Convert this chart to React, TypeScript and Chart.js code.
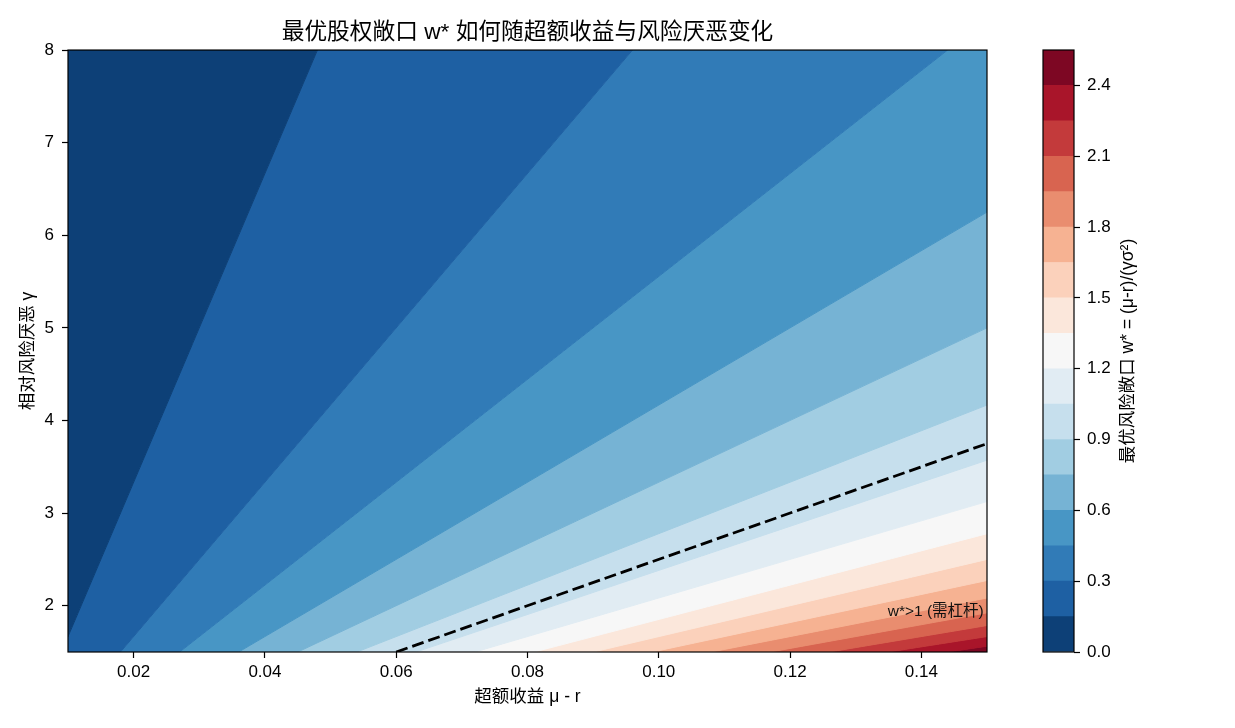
import React, { useEffect, useRef } from "react";
import { Chart, registerables } from "chart.js";

Chart.register(...registerables);

// ---------------- data ----------------
const TITLE = "最优股权敞口 w* 如何随超额收益与风险厌恶变化";
const X_LABEL = "超额收益 μ - r";
const Y_LABEL = "相对风险厌恶 γ";
const CB_LABEL = "最优风险敞口 w* = (μ-r)/(γσ²)";
const ANNOT_TEXT = "w*>1 (需杠杆)";

const sigma = 0.2; // volatility σ
const excessReturnRange = [0.01, 0.15]; // μ - r
const gammaRange = [1.5, 8]; // γ
const contourLevels = [
  0, 0.15, 0.3, 0.45, 0.6, 0.75, 0.9, 1.05, 1.2, 1.35, 1.5, 1.65, 1.8, 1.95, 2.1, 2.25, 2.4, 2.55,
];
const leverageLevel = 1; // w* = 1 dashed contour
const xTicks = [0.02, 0.04, 0.06, 0.08, 0.1, 0.12, 0.14];
const yTicks = [2, 3, 4, 5, 6, 7, 8];
const cbTicks = [0, 0.3, 0.6, 0.9, 1.2, 1.5, 1.8, 2.1, 2.4];
const annotX = 0.1495;
const annotY = 1.94;

// ---------------- styling ----------------
const FONT = "'Liberation Sans', Arial, 'Noto Sans CJK SC', sans-serif";
const LABEL_SIZE = 17.5;
const RDBU_R = [
  "#053061", "#2166ac", "#4393c3", "#92c5de", "#d1e5f0", "#f7f7f7",
  "#fddbc7", "#f4a582", "#d6604d", "#b2182b", "#67001f",
];

function hexToRgb(h: string) {
  const n = parseInt(h.slice(1), 16);
  return [(n >> 16) & 255, (n >> 8) & 255, n & 255];
}
function cmap(t: number) {
  const tt = Math.max(0, Math.min(1, t));
  const s = tt * (RDBU_R.length - 1);
  const i = Math.min(RDBU_R.length - 2, Math.floor(s));
  const f = s - i;
  const a = hexToRgb(RDBU_R[i]);
  const b = hexToRgb(RDBU_R[i + 1]);
  const c = a.map((v, k) => Math.round(v + (b[k] - v) * f));
  return `rgb(${c[0]},${c[1]},${c[2]})`;
}

type P = { x: number; y: number };
function clipPoly(poly: P[], f: (p: P) => number): P[] {
  const out: P[] = [];
  for (let i = 0; i < poly.length; i++) {
    const a = poly[i];
    const b = poly[(i + 1) % poly.length];
    const fa = f(a);
    const fb = f(b);
    if (fa >= 0) out.push(a);
    if ((fa >= 0) !== (fb >= 0)) {
      const t = fa / (fa - fb);
      out.push({ x: a.x + t * (b.x - a.x), y: a.y + t * (b.y - a.y) });
    }
  }
  return out;
}

const vmin = contourLevels[0];
const vmax = contourLevels[contourLevels.length - 1];
const bandColors = contourLevels.slice(0, -1).map((lo, i) => {
  const mid = (lo + contourLevels[i + 1]) / 2;
  return cmap((mid - vmin) / (vmax - vmin));
});

// band polygons of w* = (μ-r)/(γσ²) between consecutive levels
function bandPolygon(lo: number, hi: number): P[] {
  const s2 = sigma * sigma;
  const [x0, x1] = excessReturnRange;
  const [g0, g1] = gammaRange;
  let poly: P[] = [
    { x: x0, y: g0 },
    { x: x1, y: g0 },
    { x: x1, y: g1 },
    { x: x0, y: g1 },
  ];
  poly = clipPoly(poly, (p) => p.x - lo * s2 * p.y);
  poly = clipPoly(poly, (p) => hi * s2 * p.y - p.x);
  if (poly.length < 3) return [];
  return [...poly, poly[0]];
}

const framePlugin = {
  id: "frame",
  afterDatasetsDraw(chart: any) {
    const { ctx, chartArea: a } = chart;
    ctx.save();
    ctx.strokeStyle = "#000";
    ctx.lineWidth = 1.2;
    ctx.strokeRect(a.left, a.top, a.right - a.left, a.bottom - a.top);
    ctx.restore();
  },
};

const annotPlugin = {
  id: "annot",
  afterDatasetsDraw(chart: any) {
    const { ctx } = chart;
    const x = chart.scales.x.getPixelForValue(annotX);
    const y = chart.scales.y.getPixelForValue(annotY);
    ctx.save();
    ctx.font = `15.5px ${FONT}`;
    ctx.fillStyle = "#111";
    ctx.textAlign = "right";
    ctx.textBaseline = "middle";
    ctx.fillText(ANNOT_TEXT, x, y);
    ctx.restore();
  },
};

const cbLabelPlugin = {
  id: "cblabel",
  afterDraw(chart: any) {
    const { ctx, chartArea: a } = chart;
    ctx.save();
    ctx.translate(1128.5, (a.top + a.bottom) / 2);
    ctx.rotate(-Math.PI / 2);
    ctx.font = `${LABEL_SIZE}px ${FONT}`;
    ctx.fillStyle = "#000";
    ctx.textAlign = "center";
    ctx.textBaseline = "middle";
    ctx.fillText(CB_LABEL, 0, 0);
    ctx.restore();
  },
};

export default function App() {
  const mainRef = useRef<HTMLCanvasElement>(null);
  const cbRef = useRef<HTMLCanvasElement>(null);

  useEffect(() => {
    const s2 = sigma * sigma;
    const bandDatasets = contourLevels.slice(0, -1).map((lo, i) => ({
      data: bandPolygon(lo, contourLevels[i + 1]),
      showLine: true,
      fill: "shape",
      backgroundColor: bandColors[i],
      borderColor: bandColors[i],
      borderWidth: 1,
      pointRadius: 0,
      tension: 0,
      order: 2,
    }));
    const dashStartX = Math.max(excessReturnRange[0], gammaRange[0] * leverageLevel * s2);
    const dashEndX = excessReturnRange[1];
    const dashed = {
      data: [
        { x: dashStartX, y: dashStartX / (leverageLevel * s2) },
        { x: dashEndX, y: dashEndX / (leverageLevel * s2) },
      ],
      showLine: true,
      fill: false,
      borderColor: "#000",
      borderWidth: 2.8,
      borderDash: [12, 5],
      pointRadius: 0,
      order: 0,
    };

    const tickFont = { family: FONT, size: 17 };
    const labelFont = { family: FONT, size: LABEL_SIZE };
    const main = new Chart(mainRef.current!, {
      type: "scatter",
      data: { datasets: [dashed, ...bandDatasets] as any },
      options: {
        responsive: false,
        animation: false,
        devicePixelRatio: 1,
        layout: { padding: { left: 0, right: 248, top: 0, bottom: 0 } },
        plugins: {
          legend: { display: false },
          tooltip: { enabled: false },
          title: {
            display: true,
            text: TITLE,
            fullSize: false,
            color: "#000",
            font: { family: FONT, size: 22.7, weight: "normal" },
            padding: { top: 19, bottom: 3.8 },
          },
        },
        scales: {
          x: {
            type: "linear",
            min: excessReturnRange[0],
            max: excessReturnRange[1],
            border: { display: false },
            grid: { drawOnChartArea: false, drawTicks: true, tickLength: 6, tickColor: "#000", tickWidth: 1.2 },
            ticks: { color: "#000", font: tickFont, padding: 4, maxRotation: 0, callback: (v: any) => Number(v).toFixed(2) },
            afterBuildTicks: (s: any) => { s.ticks = xTicks.map((v) => ({ value: v })); },
            afterFit: (s: any) => { s.height = 76; },
            title: { display: true, text: X_LABEL, color: "#000", font: labelFont, padding: { top: 0, bottom: 20.5 } },
          },
          y: {
            type: "linear",
            min: gammaRange[0],
            max: gammaRange[1],
            border: { display: false },
            grid: { drawOnChartArea: false, drawTicks: true, tickLength: 6, tickColor: "#000", tickWidth: 1.2 },
            ticks: { color: "#000", font: tickFont, padding: 8, callback: (v: any) => String(v) },
            afterBuildTicks: (s: any) => { s.ticks = yTicks.map((v) => ({ value: v })); },
            afterFit: (s: any) => { s.width = 68; },
            title: { display: true, text: Y_LABEL, color: "#000", font: labelFont, padding: { top: 18, bottom: 0 } },
          },
        },
      } as any,
      plugins: [framePlugin, annotPlugin],
    });

    const cbDatasets = contourLevels.slice(0, -1).map((lo, i) => ({
      data: [contourLevels[i + 1] - lo],
      backgroundColor: bandColors[i],
      borderWidth: 0,
      barPercentage: 1,
      categoryPercentage: 1,
    }));
    const cb = new Chart(cbRef.current!, {
      type: "bar",
      data: { labels: [""], datasets: cbDatasets as any },
      options: {
        responsive: false,
        animation: false,
        devicePixelRatio: 1,
        layout: { padding: { left: 1043, right: 0, top: 50, bottom: 76 } },
        plugins: { legend: { display: false }, tooltip: { enabled: false } },
        scales: {
          x: { display: false, stacked: true },
          y: {
            position: "right",
            stacked: true,
            min: vmin,
            max: vmax,
            border: { display: false },
            grid: { drawOnChartArea: false, drawTicks: true, tickLength: 6, tickColor: "#000", tickWidth: 1.2 },
            ticks: { color: "#000", font: tickFont, padding: 7, callback: (v: any) => Number(v).toFixed(1) },
            afterBuildTicks: (s: any) => { s.ticks = cbTicks.map((v) => ({ value: v })); },
            afterFit: (s: any) => { s.width = 161; },
          },
        },
      } as any,
      plugins: [framePlugin, cbLabelPlugin],
    });

    return () => {
      main.destroy();
      cb.destroy();
    };
  }, []);

  return (
    <div style={{ position: "absolute", left: 0, top: 0, width: 1235, height: 728, background: "#fff" }}>
      <canvas ref={mainRef} width={1235} height={728} style={{ position: "absolute", left: 0, top: 0 }} />
      <canvas ref={cbRef} width={1235} height={728} style={{ position: "absolute", left: 0, top: 0 }} />
    </div>
  );
}
